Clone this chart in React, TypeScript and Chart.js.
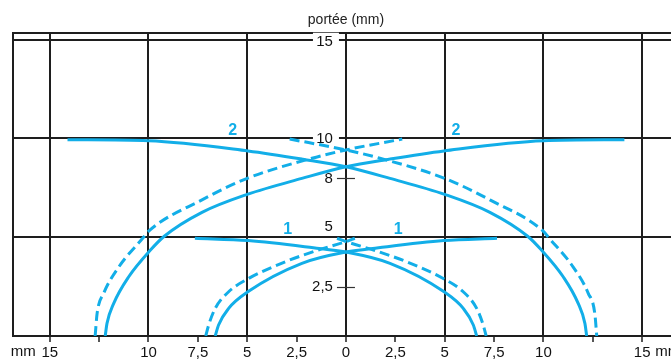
import React, { useEffect, useRef } from 'react';
import { Chart, registerables } from 'chart.js';

Chart.register(...registerables);

// ---------- data ----------
const X_MIN = -16.86;
const X_MAX = 16.46;
const Y_MAX = 15.34;

const X_TICKS = [-15, -12.5, -10, -7.5, -5, -2.5, 0, 2.5, 5, 7.5, 10, 12.5, 15];
const X_GRID = [-15, -10, -5, 0, 5, 10, 15];
const X_UNLABELLED = [-12.5, 12.5];
const Y_GRID = [0, 5, 10, 15, Y_MAX];

const Y_LABEL_VALUES = [15, 10, 8, 5, 2.5];
const Y_LABEL_TEXT = ['15', '10', '8', '5', '2,5'];
const Y_CENTER_TICKS = [8, 2.5];

// solid curve "2" (from top-left end to bottom-right)
const S2_X = [-14.1, -10, -4.96, -2.18, 0, 2.23, 5.0, 7.29, 9.2, 9.9, 11.0, 11.76, 12.1, 12.19];
const S2_Y = [9.94, 9.89, 9.37, 8.95, 8.57, 7.98, 7.17, 6.26, 5.05, 4.35, 3.0, 1.65, 0.64, 0];
// dashed curve "2"
const D2_X = [-2.85, 0, 1.72, 5.0, 7.29, 10.0, 10.25, 11.5, 12.27, 12.6, 12.7];
const D2_Y = [9.97, 9.42, 9.0, 7.98, 6.89, 5.3, 5.0, 3.5, 2.16, 1.15, 0];
// solid curve "1"
const S1_X = [-7.65, -4.95, -1.65, 0, 2.23, 4.95, 5.94, 6.45, 6.62];
const S1_Y = [4.95, 4.83, 4.47, 4.25, 3.68, 2.25, 1.4, 0.56, 0];
// dashed curve "1"
const D1_X = [-0.45, 0, 1.4, 3.07, 4.95, 5.94, 6.62, 6.95, 7.1];
const D1_Y = [4.95, 4.78, 4.35, 3.76, 2.9, 2.24, 1.4, 0.56, 0];

const CURVE_LABELS = ['2', '2', '1', '1'];
const CURVE_LABEL_X = [-5.74, 5.57, -2.95, 2.65];
const CURVE_LABEL_Y = [10.4, 10.4, 5.4, 5.4];

const TITLE = 'portée (mm)';
const UNIT = 'mm';

// ---------- style ----------
const BLUE = '#12aee8';
const DARK = '#1e1e1e';
const FONT = "'Liberation Sans', Arial, Helvetica, sans-serif";

function pts(xs: number[], ys: number[]) {
  return xs.map((x, i) => ({ x, y: ys[i] }));
}
function mirrored(xs: number[], ys: number[]) {
  return xs.map((x, i) => ({ x: -x, y: ys[i] })).reverse();
}

function fmt(v: number) {
  return String(Math.abs(v)).replace('.', ',');
}

const overlay = {
  id: 'overlay',
  beforeDatasetsDraw(chart: any) {
    const { ctx, scales } = chart;
    const x = scales.x;
    const y = scales.y;
    const x0 = x.getPixelForValue(0);
    ctx.save();
    // center tick marks
    ctx.strokeStyle = '#333';
    ctx.lineWidth = 1.2;
    for (const v of Y_CENTER_TICKS) {
      const py = Math.round(y.getPixelForValue(v)) + 0.5;
      ctx.beginPath();
      ctx.moveTo(x0 - 9, py);
      ctx.lineTo(x0 + 9, py);
      ctx.stroke();
    }
    ctx.font = `15px ${FONT}`;
    ctx.textAlign = 'right';
    ctx.textBaseline = 'middle';
    Y_LABEL_VALUES.forEach((v, i) => {
      let py = y.getPixelForValue(v);
      if (v === 5) {
        py -= 11;
      } else if (Y_GRID.includes(v)) {
        ctx.fillStyle = '#fff';
        ctx.fillRect(x0 - 33, py - 7, 26, 14);
        if (v === 15) py += 2;
      }
      ctx.fillStyle = '#111';
      ctx.fillText(Y_LABEL_TEXT[i], x0 - 13, py + 0.5);
    });
    ctx.restore();
  },
  afterDatasetsDraw(chart: any) {
    const { ctx, scales } = chart;
    const x = scales.x;
    const y = scales.y;
    ctx.save();
    ctx.font = `bold 16px ${FONT}`;
    ctx.fillStyle = BLUE;
    ctx.textAlign = 'center';
    ctx.textBaseline = 'middle';
    CURVE_LABELS.forEach((t, i) => {
      ctx.fillText(t, x.getPixelForValue(CURVE_LABEL_X[i]), y.getPixelForValue(CURVE_LABEL_Y[i]));
    });
    // title
    ctx.font = `14px ${FONT}`;
    ctx.fillStyle = '#222';
    ctx.fillText(TITLE, x.getPixelForValue(0), 20);
    // unit labels on the x axis
    ctx.font = `15px ${FONT}`;
    ctx.fillStyle = '#111';
    const ly = 352;
    ctx.textAlign = 'right';
    ctx.fillText(UNIT, x.getPixelForValue(-15) - 14, ly);
    ctx.textAlign = 'left';
    ctx.fillText(UNIT, x.getPixelForValue(15) + 13, ly);
    ctx.restore();
  },
};

export default function App() {
  const ref = useRef<HTMLCanvasElement>(null);
  useEffect(() => {
    const line = (data: any[], dashed: boolean) => ({
      data,
      showLine: true,
      borderColor: BLUE,
      backgroundColor: BLUE,
      borderWidth: 3,
      pointRadius: 0,
      fill: false,
      cubicInterpolationMode: 'monotone' as const,
      borderDash: dashed ? [10, 5] : [],
    });
    const chart = new Chart(ref.current as HTMLCanvasElement, {
      type: 'scatter',
      data: {
        datasets: [
          line(pts(S2_X, S2_Y), false),
          line(mirrored(S2_X, S2_Y), false),
          line(pts(D2_X, D2_Y), true),
          line(mirrored(D2_X, D2_Y), true),
          line(pts(S1_X, S1_Y), false),
          line(mirrored(S1_X, S1_Y), false),
          line(pts(D1_X, D1_Y), true),
          line(mirrored(D1_X, D1_Y), true),
        ],
      },
      options: {
        responsive: false,
        devicePixelRatio: 1,
        animation: false,
        layout: { padding: { left: 13, top: 33, right: 0, bottom: 0 } },
        plugins: { legend: { display: false }, tooltip: { enabled: false }, title: { display: false } },
        scales: {
          x: {
            type: 'linear',
            min: X_MIN,
            max: X_MAX,
            afterBuildTicks: (s: any) => {
              s.ticks = X_TICKS.map((v) => ({ value: v }));
            },
            afterFit: (s: any) => {
              s.height = 26;
            },
            grid: {
              color: (c: any) => (X_GRID.includes(c.tick?.value) ? DARK : 'rgba(0,0,0,0)'),
              lineWidth: 2,
              tickColor: DARK,
              tickWidth: 1.5,
              tickLength: 6,
            },
            border: { display: true, color: DARK, width: 2 },
            ticks: {
              autoSkip: false,
              maxRotation: 0,
              padding: 2,
              color: '#111',
              font: { family: FONT, size: 15 },
              callback: (v: any) => (X_UNLABELLED.includes(Number(v)) ? '' : fmt(Number(v))),
            },
          },
          y: {
            type: 'linear',
            min: 0,
            max: Y_MAX,
            afterBuildTicks: (s: any) => {
              s.ticks = Y_GRID.map((v) => ({ value: v }));
            },
            afterFit: (s: any) => {
              s.width = 0;
            },
            grid: { color: DARK, lineWidth: 2, drawTicks: false },
            border: { display: true, color: DARK, width: 2 },
            ticks: { display: false },
          },
        },
      },
      plugins: [overlay],
    } as any);
    return () => chart.destroy();
  }, []);
  return (
    <div style={{ position: 'fixed', left: 0, top: 0, width: 671, height: 362, background: '#fff' }}>
      <canvas ref={ref} width={671} height={362} style={{ display: 'block', width: 671, height: 362 }} />
    </div>
  );
}
